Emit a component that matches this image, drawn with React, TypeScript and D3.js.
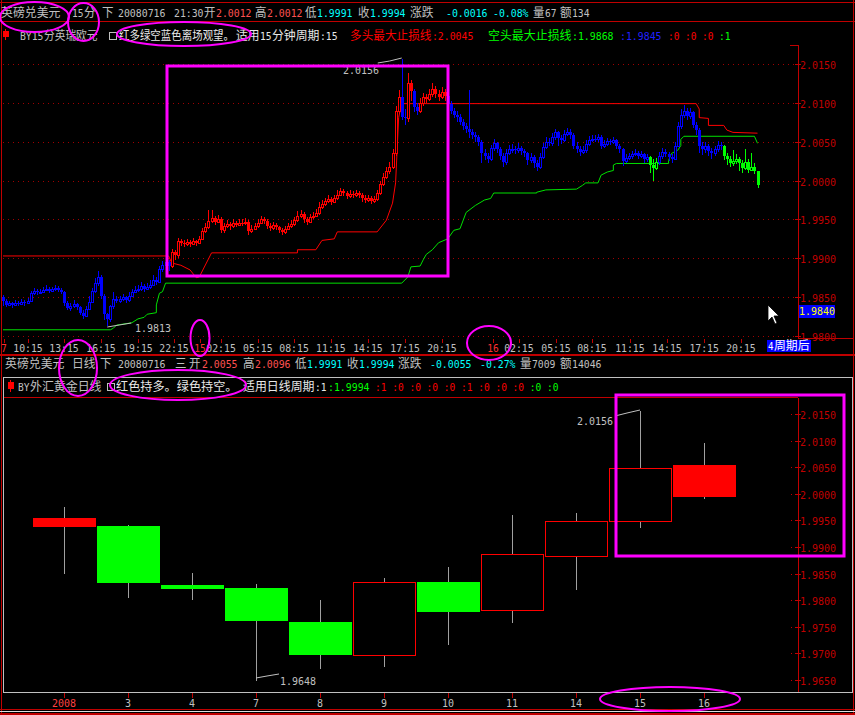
import React from 'react';
import * as d3 from 'd3';

// ---------------- DATA ----------------
// 15-minute bars (GBP/USD), values in pips above 1.9800
const m15FirstOpen = 50;
const m15Close = [
  45,40,42,40,43,41,44,42,45,55, 58,56,57,59,61,58,60,62,59,57,
  42,36,38,41,37,30,26,35,44,58, 68,76,52,28,22,38,48,45,47,50,
  46,52,57,59,60,64,61,63,66,72, 70,86,92,95,90,108,104,122,120,118,
  121,119,122,120,125,135,140,148,152,147, 151,136,142,144,141,145,143,146,145,147,
  135,138,141,146,150,148,142,139,143,140, 136,134,138,141,144,149,155,157,150,147,
  153,155,158,166,170,174,176,173,177,182, 186,184,180,183,181,184,182,178,175,177,
  174,176,184,195,205,212,218,235,290,308, 282,280,325,315,295,290,300,308,305,312,
  318,312,308,314,309,298,290,284,282,275, 270,266,262,258,256,250,235,232,228,242,
  248,240,232,224,236,240,241,239,242,238, 235,226,230,222,218,230,243,250,248,256,
  262,255,252,260,263,258,245,240,237,239, 247,252,254,253,256,245,247,251,250,252,
  244,240,225,229,231,234,236,232,234,228, 230,220,216,224,232,237,234,230,228,245,
  270,285,290,283,288,272,265,245,240,244, 238,236,240,246,244,232,228,222,225,228,
  222,216,224,214,218,212,194,
];
const m15High = [
  53,47,45,44,46,45,47,46,49,58, 62,60,61,63,66,63,63,65,64,62,
  58,45,42,46,43,39,33,38,52,62, 75,84,78,54,30,40,56,51,52,54,
  52,57,61,64,66,70,67,68,72,78, 76,90,97,100,98,112,111,126,125,123,
  125,124,126,124,129,139,146,162,162,155, 156,153,146,149,147,150,148,151,150,152,
  149,143,146,151,155,153,150,145,147,146, 142,139,142,145,149,153,161,162,159,153,
  157,160,163,172,175,178,181,179,182,188, 191,189,186,188,186,188,187,184,181,182,
  180,180,188,199,210,218,224,240,296,316, 356,292,338,330,318,300,306,313,312,318,
  326,322,316,320,318,312,302,294,290,286, 279,274,317,266,262,259,252,240,236,246,
  254,250,243,235,241,246,247,245,248,245, 241,237,236,233,226,236,248,256,255,261,
  267,264,259,265,268,266,261,249,244,245, 252,257,259,258,260,258,252,255,254,256,
  254,247,242,234,236,238,240,238,238,236, 234,232,228,229,237,242,240,237,234,250,
  276,292,297,294,293,290,276,268,250,249, 247,242,245,251,250,246,236,232,239,234,
  230,226,240,228,235,222,212,
];
const m15Low = [
  38,37,38,36,39,38,40,39,41,44, 53,53,54,55,58,55,56,58,56,54,
  38,33,32,36,34,27,22,24,33,42, 55,64,48,20,13,18,35,42,43,45,
  42,44,50,55,56,58,57,59,61,64, 66,68,82,88,84,87,98,100,116,114,
  116,115,117,116,118,123,133,138,146,143, 145,132,133,139,137,139,140,141,142,143,
  130,132,136,139,144,144,138,135,137,136, 132,130,131,136,139,142,147,152,146,143,
  145,151,153,156,163,167,171,169,171,175, 180,180,176,178,177,179,178,173,171,172,
  170,171,174,182,193,202,208,215,232,286, 278,272,276,302,288,284,287,296,300,302,
  308,306,303,305,303,294,286,280,276,271, 265,261,255,254,250,244,222,226,222,225,
  238,235,226,218,220,233,236,234,235,233, 230,220,222,216,212,215,228,240,244,244,
  252,245,247,249,257,254,240,235,232,234, 236,244,249,249,250,241,242,244,246,247,
  240,235,219,222,226,228,231,228,229,223, 224,210,200,213,220,228,230,225,223,226,
  243,266,280,278,279,268,258,236,233,236, 232,228,232,237,239,227,220,218,219,221,
  212,210,213,210,212,208,191,
];
// indicator state runs: [firstBar, lastBar, state]
const m15StateRuns: [number, number, string][] = [
  [0, 54, 'blue'], [55, 129, 'red'], [130, 131, 'blue'], [132, 133, 'red'],
  [134, 135, 'blue'], [136, 144, 'red'], [145, 210, 'blue'], [211, 213, 'green'],
  [214, 234, 'blue'], [235, 246, 'green'],
];
// stop lines: [bar, pips above 1.9800]
const longStopLine: [number, number][] = [
  [0,103],[54,103],[55,94],[58,91],[61,85],[63,75],[64,76],[68,107],[96,107],[96,111],
  [102,111],[104,123],[108,125],[109,134],[122,134],[125,149],[127,171],[128,197],[129,281],
  [130,299],[226,299],[227,292],[227,281],[230,280],[230,271],[235,271],[236,265],[238,262],[246,261],
];
const shortStopLine: [number, number][] = [
  [0,8],[35,8],[36,10],[37,14],[42,17],[44,22],[46,24],[47,28],[50,30],[50,40],[51,55],[52,57],
  [53,68],[130,68],[132,76],[133,89],[136,90],[137,98],[138,105],[140,111],[142,120],[145,125],
  [147,136],[149,138],[151,159],[154,168],[157,175],[159,177],[160,184],[174,184],[174,185],
  [177,188],[187,189],[189,194],[190,197],[194,197],[195,207],[197,211],[199,213],[199,220],
  [200,222],[217,222],[217,226],[218,235],[220,239],[221,245],[221,253],[222,257],[245,257],[246,248],
];
const m15TickLabels = ['7','10:15','13:15','16:15','19:15','22:15','15','02:15','05:15','08:15','11:15','14:15','17:15','20:15','16','02:15','05:15','08:15','11:15','14:15','17:15','20:15'];
const m15TickBars = [0.33,8.15,19.9,31.95,44.0,55.75,64.2,71.1,83.1,94.9,106.9,119.0,131.1,143.1,159.8,168.2,180.3,192.0,204.4,216.5,228.6,240.6];
const m15TickRed = ['7','15','16'];
const m15YTicks = [1.98, 1.985, 1.99, 1.995, 2.0, 2.005, 2.01, 2.015];

// daily bars
const dayLabels = ['2008','3','4','7','8','9','10','11','14','15','16'];
const dayOpen  = [1.9955,1.9939,1.9829,1.9823,1.9759,1.9697,1.9834,1.9782,1.9884,1.9949,2.0055];
const dayClose = [1.9938,1.9832,1.9821,1.9761,1.9697,1.9834,1.9778,1.9887,1.9949,2.0049,1.9994];
const dayHigh  = [1.9975,1.9942,1.9851,1.9830,1.9800,1.9842,1.9862,1.9960,1.9964,2.0156,2.0096];
const dayLow   = [1.9849,1.9804,1.9800,1.9648,1.9671,1.9674,1.9716,1.9757,1.9819,1.9936,1.9991];
const dayState = ['red','green','green','green','green','red','green','red','red','red','red'];
const dayYTicks = [1.965,1.97,1.975,1.98,1.985,1.99,1.995,2.0,2.005,2.01,2.015];

// ---------------- STYLE ----------------
const FRAME = '#c00000';
const GREY = '#c0c0c0';
const LRED = '#ff5050';
const CYAN = '#00ffff';
const MAG = '#ff00ff';
const STATE: Record<string, string> = { red: '#ff0000', blue: '#0000ff', green: '#00ff00' };
const MONO = "'DejaVu Sans Mono', 'Liberation Mono', monospace";
const CJK = "'Noto Sans CJK SC', 'Noto Sans', sans-serif";

const isCJK = (ch: string) => /[\u3000-\u303f\u3400-\u9fff\uff00-\uffef]/.test(ch);

type Seg = [number, string, string, number?, number?];

function Line({ segs, y, k }: { segs: Seg[]; y: number; k: string }) {
  const out: React.ReactNode[] = [];
  segs.forEach(([x, t, c, cAdv = 12, aAdv = 6], si) => {
    let cx = x;
    let i = 0;
    while (i < t.length) {
      const cj = isCJK(t[i]);
      let j = i;
      while (j < t.length && isCJK(t[j]) === cj) j++;
      const s = t.slice(i, j);
      const len = s.length * (cj ? cAdv : aAdv);
      out.push(
        <text key={`${k}-${si}-${i}`} x={cx} y={y} fill={c}
          fontFamily={cj ? CJK : MONO} fontSize={cj ? 12 : 11}
          textLength={len - 0.5} lengthAdjust="spacingAndGlyphs">{s}</text>
      );
      cx += len;
      i = j;
    }
  });
  return <g>{out}</g>;
}

export default function App() {
  const N = m15Close.length;
  const xT = d3.scaleLinear().domain([0, N - 1]).range([3, 757.5]);
  const yT = d3.scaleLinear().domain([1.98, 2.015]).range([336, 64]);
  const p = (v: number) => 1.98 + v * 0.0001;

  const stateOf = (i: number) => {
    const r = m15StateRuns.find(([a, b]) => i >= a && i <= b);
    return r ? r[2] : 'blue';
  };

  const bars = m15Close.map((c, i) => {
    const o = i === 0 ? m15FirstOpen : m15Close[i - 1];
    return { i, o: p(o), c: p(c), h: p(m15High[i]), l: p(m15Low[i]), s: stateOf(i) };
  });

  const lineGen = d3.line<[number, number]>().x(d => xT(d[0])).y(d => yT(p(d[1])));

  const xB = d3.scaleBand().domain(dayLabels).range([31.5, 735.5]).paddingInner(0);
  const yB = d3.scaleLinear().domain([1.965, 2.015]).range([680, 414]);

  const topHeader: Seg[] = [
    [1, '英磅兑美元', GREY], [72, '15分', GREY], [102, '下', GREY], [118, '20080716', GREY],
    [174, '21:30开', GREY], [216, '2.0012', LRED], [255, '高', GREY], [267, '2.0012', LRED],
    [305, '低', GREY], [317, '1.9991', CYAN], [358, '收', GREY], [370, '1.9994', CYAN],
    [410, '涨跌', GREY], [446, '-0.0016', CYAN], [493, '-0.08%', CYAN], [533, '量67', GREY], [560, '额134', GREY],
  ];
  const topLegend: Seg[] = [
    [20, 'BY15分英瑞欧元', GREY, 10.8],
    [119, '红多绿空蓝色离场观望。', '#e8e8e8', 10.5],
    [236, '适用15分钟周期:15', '#e8e8e8'],
    [350, '多头最大止损线:2.0045', '#ff0000', 11.7],
    [488, '空头最大止损线:1.9868', '#00ff00'],
    [620, ':1.9845', '#2020ff'],
    [668, ':0', '#ff0000'], [685, ':0', '#ff0000'], [702, ':0', '#ff0000'], [719, ':1', '#00ff00'],
  ];
  const botHeader: Seg[] = [
    [5, '英磅兑美元', GREY], [72, '日线', GREY], [100, '下', GREY], [118, '20080716', GREY],
    [175, '三', GREY], [189, '开', GREY], [202, '2.0055', LRED], [243, '高', GREY], [255, '2.0096', LRED],
    [295, '低', GREY], [307, '1.9991', CYAN], [347, '收', GREY], [359, '1.9994', CYAN],
    [398, '涨跌', GREY], [430, '-0.0055', CYAN], [480, '-0.27%', CYAN], [520, '量7009', GREY], [560, '额14046', GREY],
  ];
  const botVals = [':1', ':0', ':0', ':0', ':0', ':1', ':0', ':0', ':0', ':0', ':0'];
  const botLegend: Seg[] = [
    [18, 'BY外汇黄金日线', GREY],
    [116, '红色持多。绿色持空。', '#e8e8e8', 12.2],
    [243, '适用日线周期:1', '#e8e8e8'],
    [328, ':1.9994', '#00ff00'],
    ...botVals.map((t, k) => [375 + k * 17.2, t, k >= 9 ? '#00ff00' : '#ff0000'] as Seg),
  ];

  return (
    <svg width={855} height={715} style={{ display: 'block', position: 'absolute', left: 0, top: 0, background: '#000' }}>
      <rect x={0} y={0} width={855} height={715} fill="#000" />

      {/* ---------- frame ---------- */}
      <line x1={0} x2={855} y1={2.5} y2={2.5} stroke={FRAME} />
      <line x1={0} x2={855} y1={21.5} y2={21.5} stroke={FRAME} />
      <line x1={1.5} x2={1.5} y1={0} y2={715} stroke={FRAME} />
      <line x1={853.5} x2={853.5} y1={0} y2={715} stroke={FRAME} />
      <line x1={798.5} x2={798.5} y1={45} y2={339} stroke={FRAME} />
      <line x1={790} x2={798.5} y1={45.5} y2={45.5} stroke={FRAME} />
      <line x1={798} x2={854} y1={338.5} y2={338.5} stroke={FRAME} />
      <rect x={0} y={354} width={855} height={2} fill={FRAME} />

      {/* ---------- top header ---------- */}
      <Line segs={topHeader} y={17} k="th" />
      <g>
        <line x1={5.5} x2={5.5} y1={29} y2={40} stroke="#ff0000" />
        <rect x={3} y={31} width={6} height={6} fill="#ff0000" />
      </g>
      <Line segs={topLegend} y={40} k="tl" />
      <rect x={109.5} y={32.5} width={7} height={7} fill="none" stroke={GREY} />

      {/* ---------- top chart grid ---------- */}
      {m15YTicks.map(t => (
        <g key={`tg${t}`}>
          <line x1={3} x2={796} y1={Math.round(yT(t)) + 0.5} y2={Math.round(yT(t)) + 0.5}
            stroke="#a00000" strokeDasharray="1 4" />
          <line x1={795} x2={801} y1={Math.round(yT(t)) + 0.5} y2={Math.round(yT(t)) + 0.5} stroke={FRAME} />
          <text x={800} y={Math.round(yT(t)) + 4.5} fill={FRAME} fontFamily={MONO} fontSize={11}
            textLength={36} lengthAdjust="spacingAndGlyphs">{t.toFixed(4)}</text>
        </g>
      ))}

      {/* stop lines */}
      <path d={lineGen(longStopLine) || ''} fill="none" stroke="#ff0000" strokeWidth={1} />
      <path d={lineGen(shortStopLine) || ''} fill="none" stroke="#00e000" strokeWidth={1} />

      {/* 15-min candles */}
      <g shapeRendering="crispEdges">
        {bars.map(b => {
          const col = STATE[b.s];
          const cx = Math.round(xT(b.i));
          const top = Math.round(yT(Math.max(b.o, b.c)));
          const bot = Math.round(yT(Math.min(b.o, b.c)));
          const up = b.c > b.o;
          const hy = Math.round(yT(b.h));
          const ly = Math.round(yT(b.l));
          if (up) {
            return (
              <g key={`c${b.i}`}>
                <line x1={cx + 0.5} x2={cx + 0.5} y1={hy} y2={top} stroke={col} />
                <line x1={cx + 0.5} x2={cx + 0.5} y1={bot} y2={ly} stroke={col} />
                <rect x={cx - 0.5} y={top + 0.5} width={2} height={Math.max(bot - top, 1)} fill="#000" stroke={col} />
              </g>
            );
          }
          return (
            <g key={`c${b.i}`}>
              <line x1={cx + 0.5} x2={cx + 0.5} y1={hy} y2={ly} stroke={col} />
              <rect x={cx - 1} y={top} width={3} height={Math.max(bot - top, 1)} fill={col} />
            </g>
          );
        })}
      </g>

      {/* extreme annotations top */}
      <polyline points={`${xT(130) - 24},63 ${xT(130) - 12},61 ${xT(130)},58`} fill="none" stroke={GREY} />
      <text x={343} y={74} fill={GREY} fontFamily={MONO} fontSize={11} textLength={36} lengthAdjust="spacingAndGlyphs">2.0156</text>
      <polyline points={`${xT(34)},327 ${xT(34) + 12},325 ${xT(34) + 24},323`} fill="none" stroke={GREY} />
      <text x={135} y={332} fill={GREY} fontFamily={MONO} fontSize={11} textLength={36} lengthAdjust="spacingAndGlyphs">1.9813</text>

      {/* top x-axis */}
      {m15TickLabels.map((t, k) => {
        const x = xT(m15TickBars[k]);
        return (
          <g key={`tx${k}`}>
            <line x1={Math.round(x) + 0.5} x2={Math.round(x) + 0.5} y1={339} y2={343} stroke={FRAME} />
            <text x={x} y={352} textAnchor="middle" fill={m15TickRed.includes(t) ? '#ff3030' : GREY}
              fontFamily={MONO} fontSize={11} textLength={t.length * 6 - 0.5} lengthAdjust="spacingAndGlyphs">{t}</text>
          </g>
        );
      })}
      <rect x={767} y={340} width={44} height={12} fill="#0000ff" />
      <Line segs={[[768, '4周期后', '#ffffff']]} y={350} k="zq" />
      <rect x={799} y={305} width={36} height={13} fill="#0000ff" />
      <text x={799} y={315} fill="#ffff00" fontFamily={MONO} fontSize={11} textLength={36} lengthAdjust="spacingAndGlyphs">1.9840</text>
      <path d="M768,305 L768,321 L772,317 L775,324 L777,323 L774,316 L779,316 Z" fill="#fff" stroke="#000" strokeWidth={0.8} />

      {/* ---------- bottom header ---------- */}
      <Line segs={botHeader} y={368} k="bh" />
      <rect x={3.5} y={377.5} width={849} height={315} fill="none" stroke={GREY} />
      <g>
        <line x1={10.5} x2={10.5} y1={380} y2={392} stroke="#ff0000" />
        <rect x={8} y={382} width={6} height={7} fill="#ff0000" />
      </g>
      <Line segs={botLegend} y={391} k="bl" />
      <rect x={107.5} y={383.5} width={7} height={7} fill="none" stroke={GREY} />
      <line x1={4} x2={798} y1={397.5} y2={397.5} stroke={FRAME} />
      <line x1={798.5} x2={798.5} y1={398} y2={692} stroke={FRAME} />

      {dayYTicks.map(t => (
        <g key={`by${t}`}>
          <line x1={795} x2={801} y1={Math.round(yB(t)) + 0.5} y2={Math.round(yB(t)) + 0.5} stroke={FRAME} />
          <rect x={791} y={Math.round(yB(t))} width={1} height={1} fill={FRAME} />
          <text x={800} y={Math.round(yB(t)) + 4.5} fill={FRAME} fontFamily={MONO} fontSize={11}
            textLength={36} lengthAdjust="spacingAndGlyphs">{t.toFixed(4)}</text>
        </g>
      ))}

      {/* daily candles */}
      <g shapeRendering="crispEdges">
        {dayLabels.map((d, i) => {
          const x0 = xB(d)!;
          const w = xB.bandwidth();
          const cx = Math.round(x0 + w / 2);
          const o = dayOpen[i], c = dayClose[i];
          const top = Math.round(yB(Math.max(o, c)));
          const bot = Math.round(yB(Math.min(o, c)));
          const col = STATE[dayState[i]];
          const up = c > o;
          return (
            <g key={`d${d}`}>
              <line x1={cx + 0.5} x2={cx + 0.5} y1={Math.round(yB(dayHigh[i]))} y2={top} stroke="#a0a0a0" />
              <line x1={cx + 0.5} x2={cx + 0.5} y1={bot} y2={Math.round(yB(dayLow[i]))} stroke="#a0a0a0" />
              {up ? (
                <rect x={Math.round(x0) + 1.5} y={top + 0.5} width={w - 2} height={bot - top} fill="#000" stroke={col} />
              ) : (
                <rect x={Math.round(x0) + 1} y={top} width={w - 1} height={Math.max(bot - top, 1)} fill={col} />
              )}
            </g>
          );
        })}
      </g>
      <polyline points="615,416 627,413 640,410" fill="none" stroke={GREY} />
      <text x={577} y={425} fill={GREY} fontFamily={MONO} fontSize={11} textLength={36} lengthAdjust="spacingAndGlyphs">2.0156</text>
      <polyline points="256,678 267,676 279,674" fill="none" stroke={GREY} />
      <text x={280} y={685} fill={GREY} fontFamily={MONO} fontSize={11} textLength={36} lengthAdjust="spacingAndGlyphs">1.9648</text>

      {/* bottom x axis */}
      {dayLabels.map((d, i) => {
        const cx = Math.round(xB(d)! + xB.bandwidth() / 2);
        return (
          <g key={`bx${d}`}>
            <line x1={cx + 0.5} x2={cx + 0.5} y1={693} y2={698} stroke={FRAME} />
            <text x={cx} y={707} textAnchor="middle" fill={i === 0 ? '#ff4040' : GREY} fontFamily={MONO} fontSize={11}
              textLength={d.length * 6} lengthAdjust="spacingAndGlyphs">{d}</text>
          </g>
        );
      })}

      {/* status bar */}
      <line x1={0} x2={855} y1={709.5} y2={709.5} stroke={FRAME} />
      <line x1={0} x2={855} y1={711.5} y2={711.5} stroke="#e0e0e0" />
      <rect x={0} y={713} width={855} height={2} fill={FRAME} />

      {/* ---------- magenta annotations ---------- */}
      <g fill="none" stroke={MAG} strokeWidth={2}>
        <ellipse cx={34.5} cy={17} rx={34.5} ry={15} />
        <ellipse cx={83.5} cy={22} rx={15.5} ry={19} />
        <ellipse cx={184} cy={34} rx={67} ry={12} />
        <ellipse cx={200} cy={338} rx={9.5} ry={18} />
        <ellipse cx={489} cy={343} rx={22} ry={17} />
        <ellipse cx={78} cy={368} rx={19} ry={28} />
        <ellipse cx={178} cy={385} rx={68} ry={15} />
        <ellipse cx={670} cy={699} rx={70} ry={12} />
      </g>
      <g fill="none" stroke={MAG} strokeWidth={3}>
        <rect x={167} y={66} width={281} height={210} />
        <rect x={616} y={395} width={228} height={161} />
      </g>
    </svg>
  );
}
